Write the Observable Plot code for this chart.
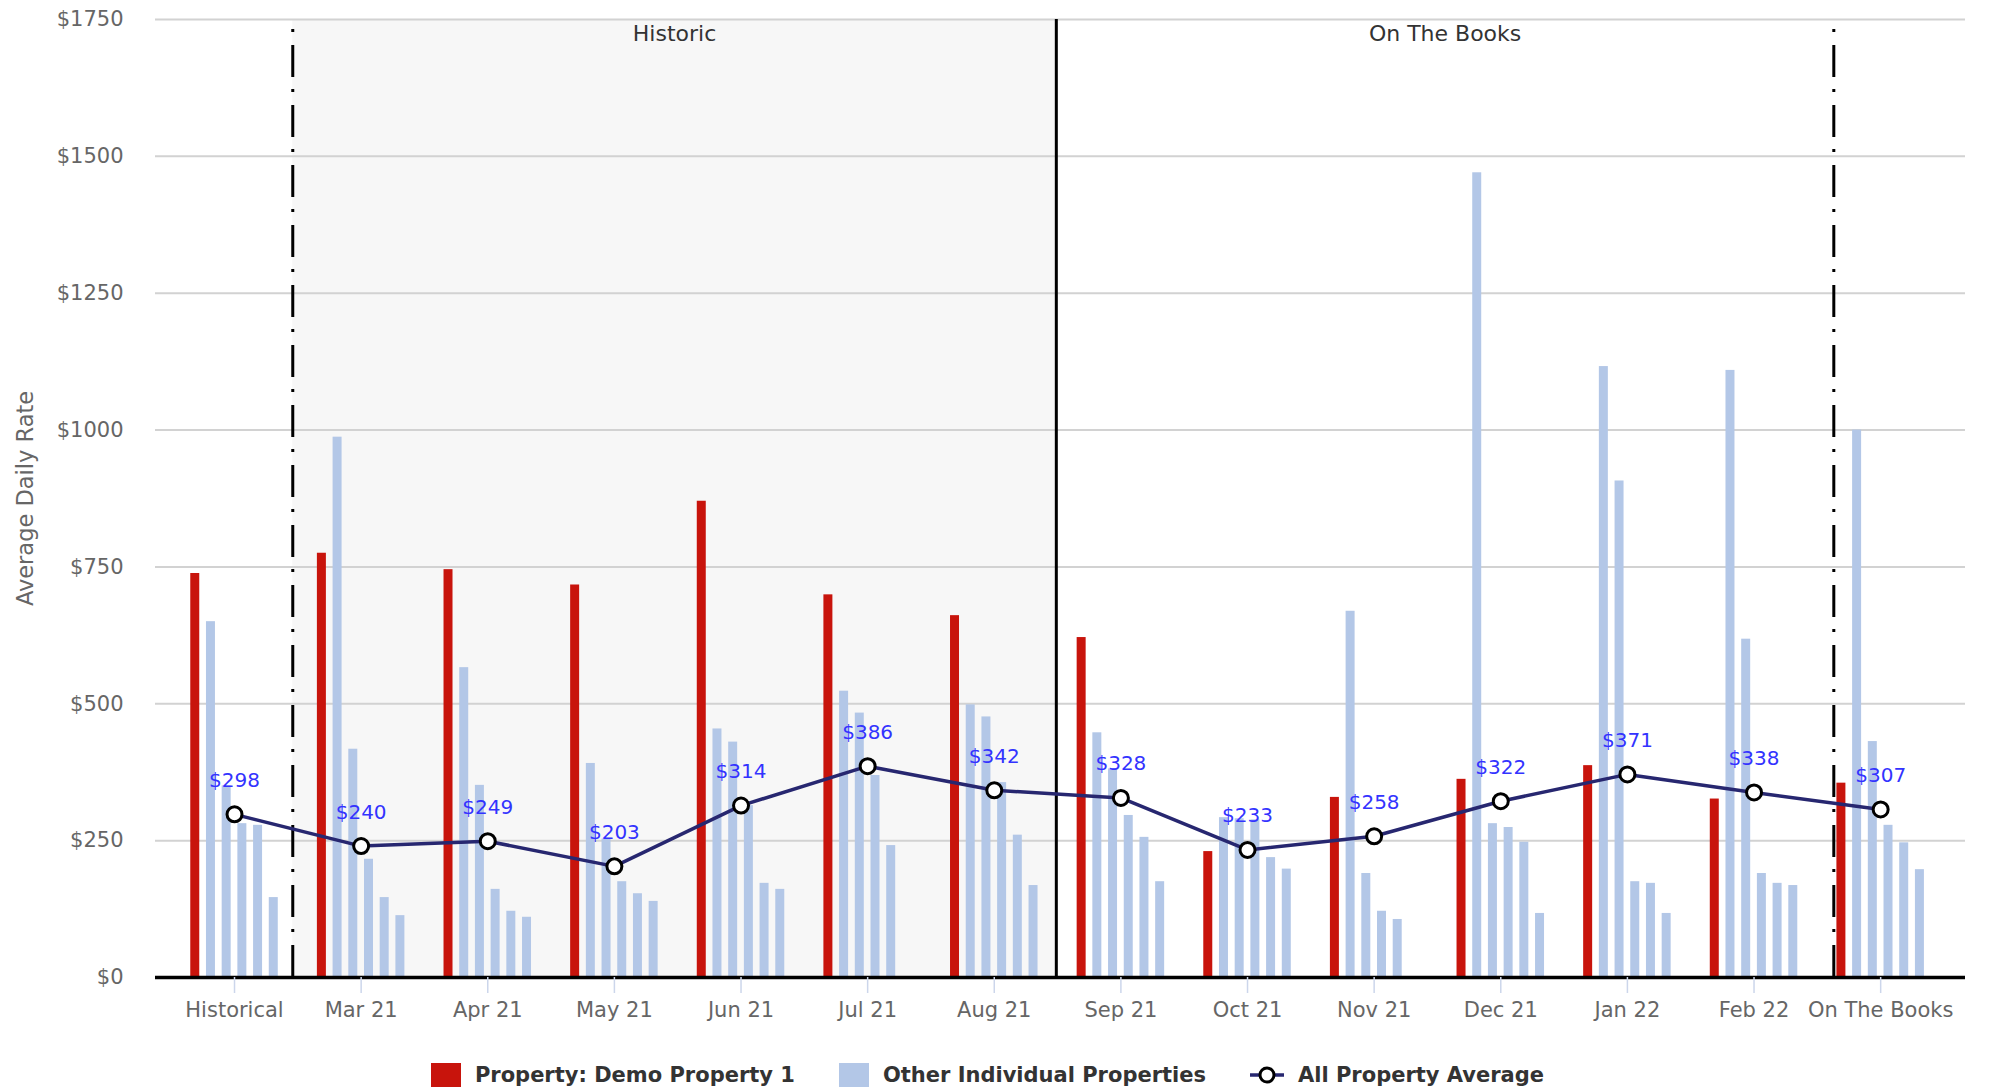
<!DOCTYPE html>
<html>
<head>
<meta charset="utf-8">
<script src="https://cdn.jsdelivr.net/npm/d3@7"></script>
<script src="https://cdn.jsdelivr.net/npm/@observablehq/plot@0.6"></script>
<style>
  html, body { margin: 0; padding: 0; background: #ffffff; }
  #chart svg { display: block; }
  #legend { display: flex; justify-content: center; align-items: center; height: 70px; padding-right: 14px;
    font-family: "DejaVu Sans", sans-serif; font-weight: bold; font-size: 21px; color: #333333; }
  .item { display: flex; align-items: center; margin: 0 22px; }
  .item svg { margin-right: 14px; }
</style>
</head>
<body>
<div id="chart"></div>
<div id="legend"></div>
<script>
// ---- data ----
const categories = ["Historical", "Mar 21", "Apr 21", "May 21", "Jun 21", "Jul 21", "Aug 21",
  "Sep 21", "Oct 21", "Nov 21", "Dec 21", "Jan 22", "Feb 22", "On The Books"];
const propertyRates = [738, 775, 745, 717, 870, 699, 661, 621, 230, 329, 362, 387, 326, 355];
const otherRates = [
  [650, 350, 281, 278, 146],
  [987, 417, 216, 146, 113],
  [566, 351, 161, 121, 110],
  [391, 253, 175, 153, 139],
  [454, 430, 314, 172, 161],
  [523, 483, 369, 241],
  [498, 476, 356, 260, 168],
  [447, 381, 296, 256, 175],
  [292, 290, 288, 219, 198],
  [669, 190, 121, 106],
  [1470, 281, 274, 247, 117],
  [1116, 907, 175, 172, 117],
  [1109, 618, 190, 172, 168],
  [1000, 431, 278, 246, 197]
];
const averageRates = [298, 240, 249, 203, 314, 386, 342, 328, 233, 258, 322, 371, 338, 307];
const yTicks = [0, 250, 500, 750, 1000, 1250, 1500, 1750];
const sectionNames = ["Historic", "On The Books"];
const sectionBreaks = [0.46, 6.49, 12.63]; // plot-line values on the category axis
const seriesNames = ["Property: Demo Property 1", "Other Individual Properties", "All Property Average"];

// ---- layout in category units ----
const slot = 0.124, barW = 0.071;
const propRows = propertyRates.map((v, i) => ({
  x1: i - 2.5 * slot - barW / 2, x2: i - 2.5 * slot + barW / 2, v }));
const otherRows = otherRates.flatMap((vals, i) => vals.map((v, k) => ({
  x1: i + (k - 1.5) * slot - barW / 2, x2: i + (k - 1.5) * slot + barW / 2, v })));
const avgRows = averageRates.map((v, i) => ({ i, v }));
const sections = [
  { a: sectionBreaks[0], b: sectionBreaks[1], name: sectionNames[0] },
  { a: sectionBreaks[1], b: sectionBreaks[2], name: sectionNames[1] }
];

const RED = "#c8140c", BLUE = "#b3c7e7", NAVY = "#272770";

const chart = Plot.plot({
  width: 1989, height: 1040,
  marginLeft: 155, marginRight: 24, marginTop: 19, marginBottom: 63,
  x: { domain: [-0.624, 13.67] },
  y: { domain: [0, 1750] },
  style: { fontFamily: "DejaVu Sans, sans-serif", fontSize: "21px", background: "#ffffff", overflow: "visible" },
  marks: [
    Plot.rect([sections[0]], { x1: "a", x2: "b", y1: 0, y2: 1750, fill: "#f7f7f7" }),
    Plot.gridY(yTicks, { stroke: "#d2d2d2", strokeWidth: 2, strokeOpacity: 1 }),
    Plot.rect(otherRows, { x1: "x1", x2: "x2", y1: 0, y2: "v", fill: BLUE }),
    Plot.rect(propRows, { x1: "x1", x2: "x2", y1: 0, y2: "v", fill: RED }),
    Plot.ruleX([sectionBreaks[0], sectionBreaks[2]], { y1: 0, y2: 1750, stroke: "#000", strokeWidth: 3, strokeDasharray: "32,13,3,12" }),
    Plot.ruleX([sectionBreaks[1]], { y1: 0, y2: 1750, stroke: "#000", strokeWidth: 3 }),
    Plot.ruleY([0], { stroke: "#000", strokeWidth: 3.5 }),
    Plot.text(sections, { x: d => (d.a + d.b) / 2, y: 1750, dy: 14, text: "name", fill: "#333333", fontSize: 22 }),
    Plot.line(avgRows, { x: "i", y: "v", stroke: NAVY, strokeWidth: 3.5 }),
    Plot.dot(avgRows, { x: "i", y: "v", r: 7.5, fill: "#ffffff", stroke: "#000", strokeWidth: 3 }),
    Plot.text(avgRows, { x: "i", y: "v", text: d => "$" + d.v, dy: -34, fill: "#3333ff", fontSize: 20 }),
    Plot.axisX({ ticks: d3.range(categories.length), tickFormat: i => categories[i], tickSize: 16, tickPadding: 9,
      stroke: "#ccd6eb", strokeWidth: 1.5, fill: "#666666", label: null }),
    Plot.axisY({ ticks: yTicks, tickFormat: d => "$" + d, tickSize: 0, tickPadding: 32, fill: "#666666", label: null }),
    Plot.text(["Average Daily Rate"], { frameAnchor: "left", textAnchor: "middle", rotate: -90, dx: -130,
      fill: "#666666", fontSize: 22.5 })
  ]
});
document.getElementById("chart").appendChild(chart);

// ---- legend ----
const legend = document.getElementById("legend");
const swatches = [
  `<svg width="30" height="24"><rect width="30" height="24" fill="${RED}"/></svg>`,
  `<svg width="30" height="24"><rect width="30" height="24" fill="${BLUE}"/></svg>`,
  `<svg width="34" height="24"><line x1="0" y1="12" x2="34" y2="12" stroke="${NAVY}" stroke-width="3.5"/><circle cx="17" cy="12" r="7" fill="#fff" stroke="#000" stroke-width="3"/></svg>`
];
seriesNames.forEach((name, k) => {
  const item = document.createElement("div");
  item.className = "item";
  item.innerHTML = swatches[k] + `<span>${name}</span>`;
  legend.appendChild(item);
});
</script>
</body>
</html>
